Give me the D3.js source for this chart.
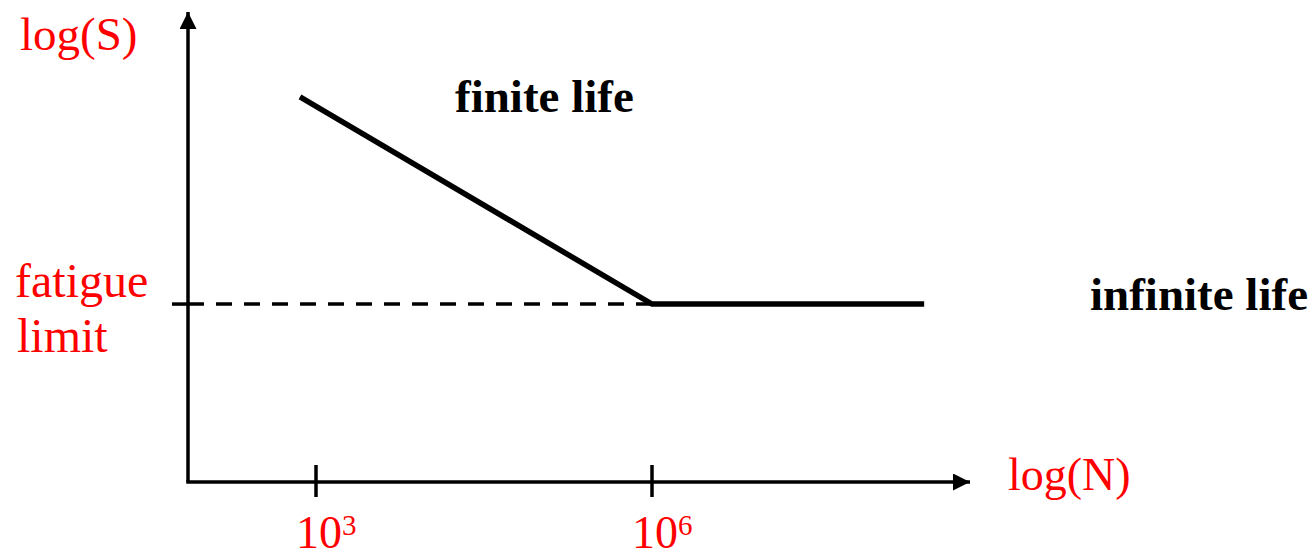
<!DOCTYPE html>
<html>
<head>
<meta charset="utf-8">
<script src="https://cdn.jsdelivr.net/npm/d3@7"></script>
<style>
  body { margin: 0; background: #fff; }
  svg { display: block; }
  text { font-family: "Liberation Serif", "Times New Roman", serif; }
</style>
</head>
<body>
<svg id="chart"></svg>
<script>
// S-N curve, schematic (log10 N on x, log S in arbitrary units on y)
const curveLogN = [2.857, 6, 8.43];
const curveLogS = [8.16, 3.77, 3.77];
const fatigueLimit = 3.77;
const tickExponents = [3, 6];

const width = 1316, height = 553;

const svg = d3.select('#chart')
    .attr('width', width)
    .attr('height', height);

// scales: 112px per decade, origin of the axes at (188, 482)
const x = d3.scaleLinear()
    .domain([3, 6])
    .range([316, 652]);
const y = d3.scaleLinear()
    .domain([0, 10])
    .range([482, 10]);

const xMin = x.invert(188), xMax = x.invert(972);
const yMax = 10;

// arrow heads
const defs = svg.append('defs');
defs.append('marker')
    .attr('id', 'arrow')
    .attr('viewBox', '0 0 16 16')
    .attr('refX', 16).attr('refY', 8)
    .attr('markerWidth', 17).attr('markerHeight', 17)
    .attr('markerUnits', 'userSpaceOnUse')
    .attr('orient', 'auto')
    .append('path')
    .attr('d', 'M0,0 L16,8 L0,16 Z')
    .attr('fill', '#000');

// axes
svg.append('path')
    .attr('d', `M${x(xMin)},${y(0)} L${x(xMin)},${y(yMax) + 2}`)
    .attr('stroke', '#000').attr('stroke-width', 3.5)
    .attr('fill', 'none')
    .attr('marker-end', 'url(#arrow)');
svg.append('path')
    .attr('d', `M${x(xMin) - 1.75},${y(0)} L${x(xMax) - 2},${y(0)}`)
    .attr('stroke', '#000').attr('stroke-width', 3.5)
    .attr('fill', 'none')
    .attr('marker-end', 'url(#arrow)');

// x ticks
svg.selectAll('.tick')
    .data(tickExponents)
    .enter().append('line')
    .attr('class', 'tick')
    .attr('x1', d => x(d)).attr('x2', d => x(d))
    .attr('y1', y(0) - 17).attr('y2', y(0) + 15)
    .attr('stroke', '#000').attr('stroke-width', 3.5);

const tickLabels = svg.selectAll('.tick-label')
    .data(tickExponents)
    .enter().append('text')
    .attr('class', 'tick-label')
    .attr('x', d => x(d) - 20)
    .attr('y', 548)
    .attr('fill', '#ff0000')
    .style('font-size', '46px');
tickLabels.append('tspan').text('10');
tickLabels.append('tspan')
    .attr('dy', -13)
    .style('font-size', '29px')
    .text(d => d);

// fatigue limit: small tick left of y axis + dashed guide
svg.append('line')
    .attr('x1', x(xMin) - 16).attr('x2', x(xMin))
    .attr('y1', y(fatigueLimit)).attr('y2', y(fatigueLimit))
    .attr('stroke', '#000').attr('stroke-width', 3.5);
svg.append('line')
    .attr('x1', x(xMin)).attr('x2', x(curveLogN[1]))
    .attr('y1', y(fatigueLimit)).attr('y2', y(fatigueLimit))
    .attr('stroke', '#000').attr('stroke-width', 3.5)
    .attr('stroke-dasharray', '16,12');

// the S-N curve
const line = d3.line()
    .x(d => x(d[0]))
    .y(d => y(d[1]));
svg.append('path')
    .datum(curveLogN.map((n, i) => [n, curveLogS[i]]))
    .attr('d', line)
    .attr('fill', 'none')
    .attr('stroke', '#000')
    .attr('stroke-width', 5.5)
    .attr('stroke-linejoin', 'miter');

// red axis labels
svg.append('text')
    .attr('x', 20).attr('y', 50)
    .attr('fill', '#ff0000')
    .style('font-size', '47px')
    .text('log(S)');
svg.append('text')
    .attr('x', 1008).attr('y', 490)
    .attr('fill', '#ff0000')
    .style('font-size', '46px')
    .text('log(N)');
svg.append('text')
    .attr('x', 15).attr('y', 297)
    .attr('fill', '#ff0000')
    .style('font-size', '48px')
    .text('fatigue');
svg.append('text')
    .attr('x', 17).attr('y', 352)
    .attr('fill', '#ff0000')
    .style('font-size', '48px')
    .text('limit');

// region labels
svg.append('text')
    .attr('x', 455).attr('y', 112)
    .style('font-size', '47px')
    .style('font-weight', 'bold')
    .text('finite life');
svg.append('text')
    .attr('x', 1090).attr('y', 310)
    .style('font-size', '47px')
    .style('font-weight', 'bold')
    .text('infinite life');
</script>
</body>
</html>
